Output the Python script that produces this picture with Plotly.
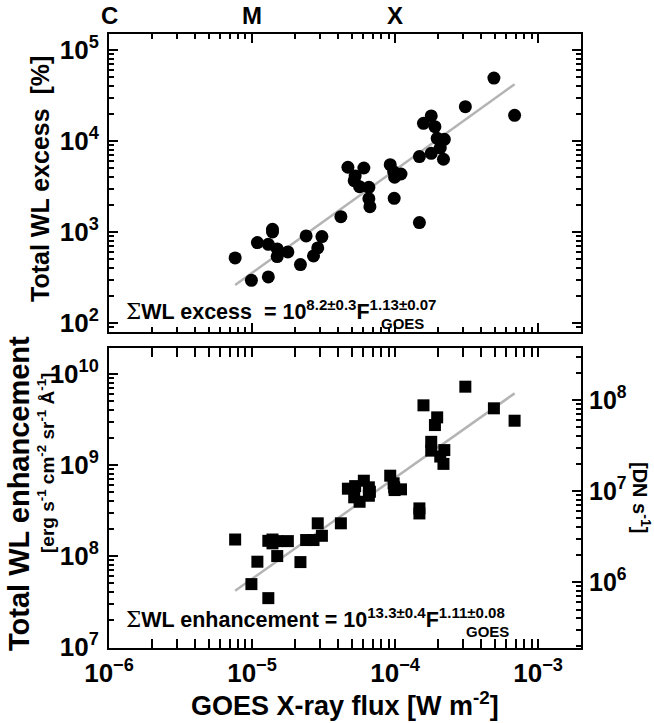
import numpy as np
import plotly.graph_objects as go

# ---------------- data ----------------
GOES_FLUX = [7.62e-6, 9.9e-6, 1.09e-5, 1.30e-5, 1.30e-5, 1.39e-5, 1.39e-5, 1.50e-5, 1.50e-5,
             1.78e-5, 2.18e-5, 2.39e-5, 2.69e-5, 2.88e-5, 3.08e-5, 4.18e-5, 4.68e-5, 5.26e-5,
             5.18e-5, 6.05e-5, 5.65e-5, 6.56e-5, 6.56e-5, 6.67e-5, 9.25e-5, 9.77e-5, 9.93e-5,
             1.10e-4, 9.86e-5, 1.48e-4, 1.48e-4, 1.58e-4, 1.79e-4, 1.90e-4, 1.79e-4, 1.97e-4,
             2.21e-4, 2.07e-4, 2.18e-4, 3.10e-4, 4.91e-4, 6.85e-4]

WL_EXCESS = [518, 294, 764, 320, 731, 1069, 1000, 650, 536,
             603, 438, 904, 545, 667, 889, 1472, 5140, 4121,
             3664, 5047, 3148, 3097, 2323, 1897, 5495, 4603, 3990,
             4335, 2344, 1268, 6730, 15630, 18840, 14350, 7311, 10690,
             10420, 8375, 6295, 23820, 49200, 19140]

WL_ENHANCEMENT = [1.52e8, 4.92e7, 8.67e7, 3.45e7, 1.47e8, 1.52e8, 1.38e8, 1.00e8, 1.46e8,
                  1.46e8, 8.59e7, 1.50e8, 1.50e8, 2.29e8, 1.67e8, 2.29e8, 5.50e8, 5.87e8,
                  4.42e8, 6.73e8, 3.95e8, 5.69e8, 4.60e8, 5.09e8, 7.64e8, 6.30e8, 5.31e8,
                  5.41e8, 5.69e8, 3.34e8, 2.94e8, 4.53e9, 1.80e9, 2.75e9, 1.44e9, 3.34e9,
                  1.46e9, 1.24e9, 1.03e9, 7.26e9, 4.20e9, 3.07e9]

FIT_EXCESS = [8.2, 1.13]        # log10 intercept, slope
FIT_ENHANCEMENT = [13.3, 1.11]

CLASS_LABELS = ["C", "M", "X"]
CLASS_FLUX = [1e-6, 1e-5, 1e-4]

# tick positions / labels
X_TICKS = [1e-6, 1e-5, 1e-4, 1e-3]
X_TICKTEXT = ["10<sup>−6</sup>", "10<sup>−5</sup>", "10<sup>−4</sup>", "10<sup>−3</sup>"]
EXCESS_TICKS = [1e2, 1e3, 1e4, 1e5]
EXCESS_TICKTEXT = ["10<sup>2</sup>", "10<sup>3</sup>", "10<sup>4</sup>", "10<sup>5</sup>"]
ENH_TICKS = [1e7, 1e8, 1e9, 1e10]
ENH_TICKTEXT = ["10<sup>7</sup>", "10<sup>8</sup>", "10<sup>9</sup>", "10<sup>10</sup>"]
DN_TICKS = [1e6, 1e7, 1e8]
DN_TICKTEXT = ["10<sup>6</sup>", "10<sup>7</sup>", "10<sup>8</sup>"]

# ---------------- layout geometry ----------------
W, H = 654, 723
L, R, T, B = 109, 73, 34, 75
PW, PH = W - L - R, H - T - B
TOP_PANEL = [(H - B - 332) / PH, 1.0]
BOT_PANEL = [0.0, (H - B - 348) / PH]


def px_x(px):
    return (px - L) / PW


def px_y(py):
    return (H - B - py) / PH


def minor_vals(lo, hi):
    return [k * 10.0 ** e for e in range(lo, hi) for k in range(2, 10)]


def bold(labels):
    return ["<b>" + s + "</b>" for s in labels]


FONT = "Liberation Sans, Arial, Helvetica, sans-serif"
BLACK = "#000000"
GREY = "#b4b4b4"

fig = go.Figure()

xfit = np.array([min(GOES_FLUX), max(GOES_FLUX)])
fig.add_trace(go.Scatter(x=xfit, y=10 ** (FIT_EXCESS[0] + FIT_EXCESS[1] * np.log10(xfit)),
                         mode="lines", line=dict(color=GREY, width=2.5),
                         xaxis="x", yaxis="y", showlegend=False, hoverinfo="skip"))
fig.add_trace(go.Scatter(x=GOES_FLUX, y=WL_EXCESS, mode="markers",
                         marker=dict(symbol="circle", size=13, color=BLACK, line=dict(width=0)),
                         xaxis="x", yaxis="y", showlegend=False))
fig.add_trace(go.Scatter(x=xfit, y=10 ** (FIT_ENHANCEMENT[0] + FIT_ENHANCEMENT[1] * np.log10(xfit)),
                         mode="lines", line=dict(color=GREY, width=2.5),
                         xaxis="x2", yaxis="y2", showlegend=False, hoverinfo="skip"))
fig.add_trace(go.Scatter(x=GOES_FLUX, y=WL_ENHANCEMENT, mode="markers",
                         marker=dict(symbol="square", size=12, color=BLACK, line=dict(width=0)),
                         xaxis="x2", yaxis="y2", showlegend=False))
# empty trace so the right-hand DN axis is rendered
fig.add_trace(go.Scatter(x=[None], y=[None], xaxis="x2", yaxis="y3", showlegend=False,
                         hoverinfo="skip"))

tickfont = dict(family=FONT, size=26, color=BLACK, weight="bold")


def minor(lo, hi):
    return dict(ticks="inside", ticklen=5, tickwidth=1.5, tickcolor=BLACK,
                tickmode="array", tickvals=minor_vals(lo, hi), showgrid=False)


def axis(ticks, text, lo, hi, **kw):
    d = dict(type="log", showgrid=False, zeroline=False, showline=True, linecolor=BLACK,
             linewidth=2, ticks="inside", ticklen=9, tickwidth=2, tickcolor=BLACK,
             tickmode="array", tickvals=ticks, ticktext=bold(text), tickfont=tickfont,
             minor=minor(lo, hi))
    d.update(kw)
    return d


fig.update_layout(
    width=W, height=H,
    margin=dict(l=L, r=R, t=T, b=B, pad=0),
    paper_bgcolor="white", plot_bgcolor="white",
    font=dict(family=FONT, color=BLACK),
    xaxis=axis(X_TICKS, X_TICKTEXT, -6, -2, domain=[0, 1], anchor="y", range=[-6.0, -2.70],
               mirror="allticks", showticklabels=False),
    yaxis=axis(EXCESS_TICKS, EXCESS_TICKTEXT, 1, 6, domain=TOP_PANEL, anchor="x",
               range=[1.90, 5.176], mirror="allticks", ticklabelstandoff=3),
    xaxis2=axis(X_TICKS, X_TICKTEXT, -6, -2, domain=[0, 1], anchor="y2", range=[-6.0, -2.70],
                mirror="allticks", ticklabelstandoff=1),
    yaxis2=axis(ENH_TICKS, ENH_TICKTEXT, 6, 11, domain=BOT_PANEL, anchor="x2",
                range=[6.99, 10.286], mirror=True, ticklabelstandoff=3),
    yaxis3=axis(DN_TICKS, DN_TICKTEXT, 5, 9, anchor="x2", overlaying="y2", side="right",
                range=[5.276, 8.572], ticklabelstandoff=1,
                tickfont=dict(family=FONT, size=25, color=BLACK, weight="bold")),
)

ann = []
# C / M / X classes on top
for lab, fx in zip(CLASS_LABELS, CLASS_FLUX):
    ann.append(dict(text="<b>" + lab + "</b>", x=np.log10(fx), xref="x", y=px_y(16), yref="paper",
                    showarrow=False, xanchor="center", yanchor="middle",
                    font=dict(family=FONT, size=24, weight="bold")))

# axis titles
ann.append(dict(text="<b>Total WL excess  [%]</b>", textangle=-90, x=px_x(40), y=px_y(179),
                xref="paper", yref="paper", showarrow=False, xanchor="center", yanchor="middle",
                font=dict(family=FONT, size=25, weight="bold")))
ann.append(dict(text="<b>Total WL enhancement</b>", textangle=-90, x=px_x(19), y=px_y(494),
                xref="paper", yref="paper", showarrow=False, xanchor="center", yanchor="middle",
                font=dict(family=FONT, size=29, weight="bold")))
ann.append(dict(text="<b>[erg s<sup>-1</sup> cm<sup>-2</sup> sr<sup>-1</sup> Å<sup>-1</sup>]</b>",
                textangle=-90, x=px_x(46), y=px_y(463),
                xref="paper", yref="paper", showarrow=False, xanchor="center", yanchor="middle",
                font=dict(family=FONT, size=19, weight="bold")))
ann.append(dict(text="<b>[DN s<sup>-1</sup>]</b>", textangle=90, x=px_x(642), y=px_y(497),
                xref="paper", yref="paper", showarrow=False, xanchor="center", yanchor="middle",
                font=dict(family=FONT, size=20, weight="bold")))
ann.append(dict(text="<b>GOES X-ray flux [W m<sup>-2</sup>]</b>", x=px_x(345), y=px_y(704),
                xref="paper", yref="paper", showarrow=False, xanchor="center", yanchor="middle",
                font=dict(family=FONT, size=27, weight="bold")))

SIG = "<span style='font-family:DejaVu Serif;font-weight:normal'>Σ</span>"
# fit formulas
ann.append(dict(text=SIG + "<b>WL excess  = 10<sup>8.2±0.3</sup>F<sup>1.13±0.07</sup></b>",
                x=px_x(124), y=px_y(310), xref="paper", yref="paper", showarrow=False,
                xanchor="left", yanchor="middle", font=dict(family=FONT, size=21.5, weight="bold")))
ann.append(dict(text="<b>GOES</b>", x=px_x(379), y=px_y(323), xref="paper", yref="paper",
                showarrow=False, xanchor="left", yanchor="middle",
                font=dict(family=FONT, size=15, weight="bold")))
ann.append(dict(text=SIG + "<b>WL enhancement = 10<sup>13.3±0.4</sup>F<sup>1.11±0.08</sup></b>",
                x=px_x(124), y=px_y(618), xref="paper", yref="paper", showarrow=False,
                xanchor="left", yanchor="middle", font=dict(family=FONT, size=21.5, weight="bold")))
ann.append(dict(text="<b>GOES</b>", x=px_x(464), y=px_y(631), xref="paper", yref="paper",
                showarrow=False, xanchor="left", yanchor="middle",
                font=dict(family=FONT, size=15, weight="bold")))

fig.update_layout(annotations=ann)
fig.write_html("out.html")
